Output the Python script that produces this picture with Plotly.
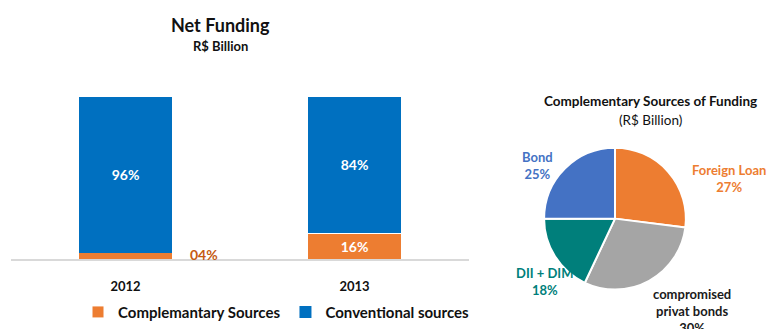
import plotly.graph_objects as go

# Net Funding split by year (percent of total)
years = ["2012", "2013"]
complementary = [4, 16]
conventional = [96, 84]

# Complementary sources breakdown (percent)
pie_labels = ["Foreign Loan", "compromised<br>privat bonds", "DII + DIM", "Bond"]
pie_values = [27, 30, 18, 25]
pie_colors = ["#ED7D31", "#A5A5A5", "#007F7B", "#4472C4"]
pie_label_colors = ["#ED7D31", "#1a1a1a", "#007F7B", "#4472C4"]

W, H = 768, 329
FONT = "Lato"

def px(x):
    return x / W

def py(y):
    return 1 - y / H

pos = list(range(len(years)))

fig = go.Figure()

fig.add_trace(go.Bar(
    x=pos, y=complementary, name="Complemantary Sources",
    marker=dict(color="#ED7D31", line=dict(color="white", width=1)),
    text=[f"{v:02d}%" if v >= 10 else "" for v in complementary],
    textposition="inside", insidetextanchor="middle",
    textfont=dict(color="white", size=14, family=FONT, weight="bold"),
    width=0.41,
))
fig.add_trace(go.Bar(
    x=pos, y=conventional, name="Conventional sources",
    marker=dict(color="#0070C0", line=dict(color="white", width=0)),
    text=[f"{v:02d}%" for v in conventional],
    textposition="inside", insidetextanchor="middle",
    textfont=dict(color="white", size=14, family=FONT, weight="bold"),
    width=0.41,
))

# small complementary share labelled beside its bar
for p, v in zip(pos, complementary):
    if v < 10:
        fig.add_annotation(
            x=p, y=v / 2 + 0.5, xref="x", yref="y", text=f"{v:02d}%",
            showarrow=False, xshift=78, xanchor="center", yanchor="middle",
            font=dict(color="#C55A11", size=14, family=FONT, weight="bold"),
        )

fig.add_trace(go.Pie(
    labels=pie_labels, values=pie_values, sort=False, direction="clockwise",
    rotation=0, marker=dict(colors=pie_colors, line=dict(color="white", width=2)),
    textinfo="none", hoverinfo="label+percent", showlegend=False,
    domain=dict(x=[px(543), px(687)], y=[py(294), py(150)]),
))

# pie slice labels
pie_label_pos = [(729, 181), (692, 316), (544, 286), (537, 168)]
for lab, val, col, (lx, ly) in zip(pie_labels, pie_values, pie_label_colors, pie_label_pos):
    fig.add_annotation(
        x=px(lx), y=py(ly), xref="paper", yref="paper",
        xanchor="center", yanchor="middle",
        text=f"{lab}<br>{val}%", showarrow=False, align="center",
        font=dict(color=col, size=13, family=FONT, weight="bold"),
    )

# titles
titles = [
    ("Net Funding", 220, 25, 18, "bold"),
    ("R$ Billion", 220, 47, 13, "bold"),
    ("Complementary Sources of Funding", 650, 103, 13.5, "bold"),
    ("(R$ Billion)", 650, 122, 13.5, "normal"),
]
for txt, tx, ty, sz, wt in titles:
    fig.add_annotation(x=px(tx), y=py(ty), xref="paper", yref="paper", showarrow=False,
                       xanchor="center", yanchor="middle", text=txt,
                       font=dict(size=sz, family=FONT, weight=wt, color="#111"))

fig.update_layout(
    width=W, height=H, margin=dict(l=0, r=0, t=0, b=0),
    paper_bgcolor="white", plot_bgcolor="white",
    barmode="stack",
    font=dict(family=FONT),
    xaxis=dict(domain=[px(11), px(469)], range=[-0.5, len(years) - 0.5],
               tickvals=pos, ticktext=years, showgrid=False, zeroline=False,
               showline=True, linecolor="#D9D9D9", linewidth=2, ticks="",
               ticklabelstandoff=14,
               tickfont=dict(size=13, family=FONT, weight="bold", color="#111")),
    yaxis=dict(domain=[py(263), py(98)], range=[0, 100], visible=False, showgrid=False),
    legend=dict(orientation="h", x=px(78), y=py(317), xanchor="left", yanchor="middle",
                font=dict(size=15, family=FONT, weight="bold", color="#111"),
                itemwidth=30, traceorder="normal", tracegroupgap=0),
    showlegend=True,
)

fig.write_html("out.html")
